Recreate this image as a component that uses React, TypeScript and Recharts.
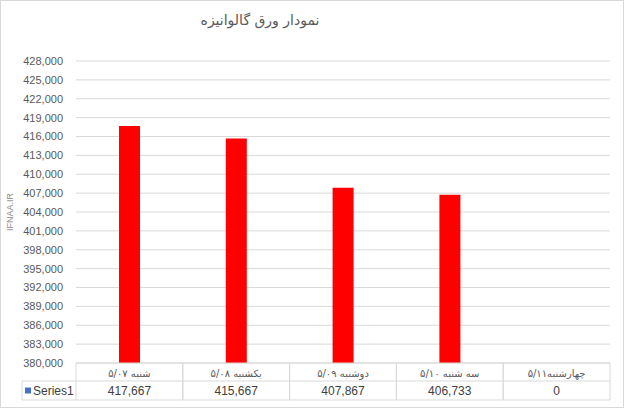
import { BarChart, Bar, XAxis, YAxis, CartesianGrid, Label } from "recharts"

const title = "نمودار ورق گالوانیزه"
const categories = ["شنبه ۵/۰۷", "یکشنبه ۵/۰۸", "دوشنبه ۵/۰۹", "سه شنبه ۵/۱۰", "چهارشنبه۵/۱۱"]
const series1 = [417667, 415667, 407867, 406733, 0]
const yTicks = [
  380000, 383000, 386000, 389000, 392000, 395000, 398000, 401000, 404000,
  407000, 410000, 413000, 416000, 419000, 422000, 425000, 428000,
]

const data = categories.map((name, i) => ({ name, value: series1[i] }))

const W = 624
const H = 408
const PLOT_LEFT = 76
const PLOT_RIGHT = 610
const PLOT_TOP = 61
const PLOT_BOTTOM = 363
const ROW1 = 18
const ROW2 = 19
const LINE = "#d9d9d9"
const FONT = "'Liberation Sans', Arial, sans-serif"

const fmt = (v: number) => v.toLocaleString("en-US")

function TableTick(props: any) {
  const { x, payload } = props
  const i = payload.index
  const band = (PLOT_RIGHT - PLOT_LEFT) / categories.length
  const left = x - band / 2
  const right = x + band / 2
  const top = PLOT_BOTTOM
  const mid = top + ROW1
  const bottom = mid + ROW2
  return (
    <g>
      <line x1={left} x2={left} y1={top} y2={bottom} stroke={LINE} />
      <line x1={right} x2={right} y1={top} y2={bottom} stroke={LINE} />
      <line x1={left} x2={right} y1={mid} y2={mid} stroke={LINE} />
      <line x1={left} x2={right} y1={bottom} y2={bottom} stroke={LINE} />
      <text x={x} y={top + ROW1 / 2 + 1} textAnchor="middle" dominantBaseline="central"
        fontSize={10} fill="#595959" fontFamily="'DejaVu Sans', sans-serif">
        {categories[i]}
      </text>
      <text x={x} y={mid + ROW2 / 2} textAnchor="middle" dominantBaseline="central"
        fontSize={12} fill="#404040" fontFamily={FONT}>
        {fmt(series1[i])}
      </text>
      {i === 0 && (
        <g>
          <line x1={22} x2={left} y1={mid} y2={mid} stroke={LINE} />
          <line x1={22} x2={left} y1={bottom} y2={bottom} stroke={LINE} />
          <line x1={22} x2={22} y1={mid} y2={bottom} stroke={LINE} />
          <rect x={25} y={mid + ROW2 / 2 - 3} width={6} height={6} fill="#4472c4" />
          <text x={33} y={mid + ROW2 / 2} dominantBaseline="central" fontSize={12}
            fill="#404040" fontFamily={FONT}>
            Series1
          </text>
        </g>
      )}
    </g>
  )
}

export default function App() {
  return (
    <div style={{ position: "absolute", left: 0, top: 0, width: W, height: H, background: "#fff" }}>
      <div style={{
        position: "absolute", left: 0, top: 0, width: W, height: H, boxSizing: "border-box",
        border: "1px solid #d9d9d9", pointerEvents: "none",
      }} />
      <div style={{
        position: "absolute", left: 160, top: 12, width: 200, textAlign: "center",
        fontFamily: "'DejaVu Sans', sans-serif", fontSize: 14, color: "#595959", direction: "rtl",
      }}>
        {title}
      </div>
      <BarChart width={W} height={H} data={data}
        margin={{ top: PLOT_TOP, right: W - PLOT_RIGHT, left: 0, bottom: 8 }}>
        <CartesianGrid vertical={false} stroke={LINE} />
        <XAxis dataKey="name" height={H - PLOT_BOTTOM - 8} axisLine={{ stroke: LINE }}
          tickLine={false} interval={0} tick={<TableTick />} />
        <YAxis width={PLOT_LEFT} domain={[380000, 428000]} ticks={yTicks} allowDataOverflow
          interval={0} axisLine={false} tickLine={false} tickMargin={7} tickFormatter={fmt}
          tick={{ fontSize: 11, fill: "#595959", fontFamily: FONT }}>
          <Label value="IFNAA.IR" angle={-90} position="center" dx={-28}
            style={{ fontSize: 9, fill: "#8c8c8c", fontFamily: FONT }} />
        </YAxis>
        <Bar dataKey={(d: any) => (d.value > 0 ? d.value : null)} fill="#ff0000"
          barSize={21} isAnimationActive={false} />
      </BarChart>
    </div>
  )
}
